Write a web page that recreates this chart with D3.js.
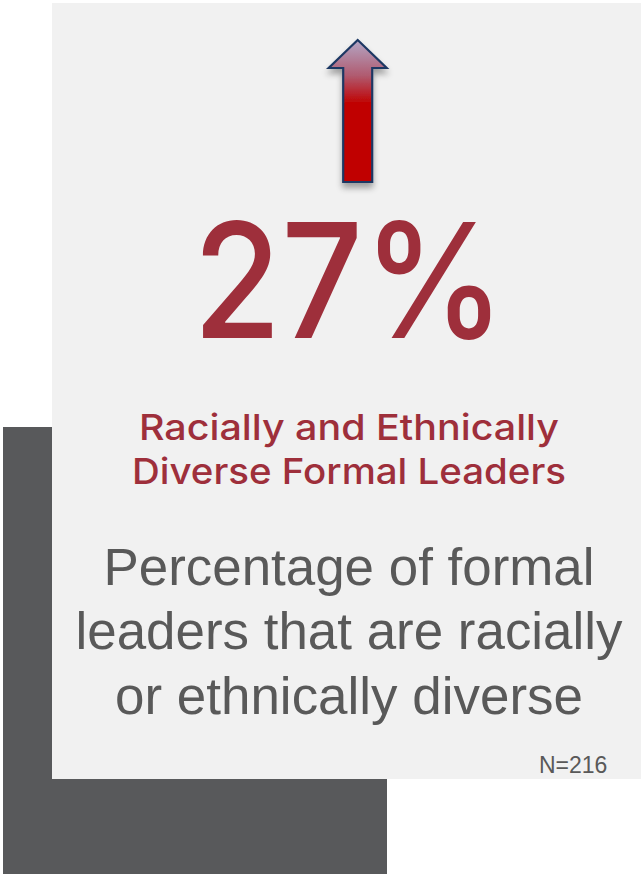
<!DOCTYPE html>
<html>
<head>
<meta charset="utf-8">
<script src="https://cdn.jsdelivr.net/npm/d3@7/dist/d3.min.js"></script>
<style>
  html, body { margin: 0; padding: 0; background: #ffffff; }
  svg { display: block; }
</style>
</head>
<body>
<script>
// ---- data ----
const statValue = [27];
const statUnit = ["%"];
const titleLines = ["Racially and Ethnically", "Diverse Formal Leaders"];
const descLines = ["Percentage of formal", "leaders that are racially", "or ethnically diverse"];
const sampleLabel = ["N=216"];

// ---- layout ----
const W = 641, H = 874;
const svg = d3.select("body").append("svg").attr("width", W).attr("height", H);
const defs = svg.append("defs");

// background blocks
svg.append("rect").attr("x", 3).attr("y", 427).attr("width", 384).attr("height", H - 427).attr("fill", "#58595b");
svg.append("rect").attr("x", 52).attr("y", 3).attr("width", W - 52).attr("height", 776).attr("fill", "#f1f1f1");

const cx = 349;

// arrow
const grad = defs.append("linearGradient").attr("id", "ag").attr("x1", 0).attr("y1", 0).attr("x2", 0).attr("y2", 1);
grad.append("stop").attr("offset", "0%").attr("stop-color", "#b4a7c6");
grad.append("stop").attr("offset", "25%").attr("stop-color", "#b05b70");
grad.append("stop").attr("offset", "45%").attr("stop-color", "#c00000");
grad.append("stop").attr("offset", "100%").attr("stop-color", "#c00000");
const f = defs.append("filter").attr("id", "sh").attr("x", "-50%").attr("y", "-20%").attr("width", "200%").attr("height", "150%");
f.append("feGaussianBlur").attr("in", "SourceAlpha").attr("stdDeviation", 3);
f.append("feOffset").attr("dx", 0).attr("dy", 5).attr("result", "ob");
f.append("feComponentTransfer").append("feFuncA").attr("type", "linear").attr("slope", 0.35);
const fm = f.append("feMerge");
fm.append("feMergeNode");
fm.append("feMergeNode").attr("in", "SourceGraphic");

const ax = 357.7, aTop = 40, aHeadBase = 68, aBottom = 182, headHalf = 29, shaftHalf = 14.5;
const arrowPts = [
  [ax, aTop], [ax + headHalf, aHeadBase], [ax + shaftHalf, aHeadBase], [ax + shaftHalf, aBottom],
  [ax - shaftHalf, aBottom], [ax - shaftHalf, aHeadBase], [ax - headHalf, aHeadBase]
];
svg.append("path")
  .attr("d", d3.line()(arrowPts) + "Z")
  .attr("fill", "url(#ag)")
  .attr("stroke", "#1f3864")
  .attr("stroke-width", 2.2)
  .attr("stroke-linejoin", "miter")
  .attr("filter", "url(#sh)");

// big number
const fmt = d => d3.format("d")(d) + statUnit[0];
svg.selectAll("text.stat").data(statValue).join("text")
  .attr("class", "stat")
  .attr("x", cx).attr("y", 338)
  .attr("text-anchor", "middle")
  .attr("font-family", "Inter, 'Noto Sans', sans-serif")
  .attr("font-weight", 500)
  .attr("font-size", 160)
  .attr("fill", "#9e2f3b")
  .attr("textLength", 312)
  .attr("lengthAdjust", "spacingAndGlyphs")
  .text(fmt);

// title lines
const titleY = d3.scalePoint().domain(titleLines).range([439.5, 483.5]);
const titleW = [420, 434];
svg.selectAll("text.title").data(titleLines).join("text")
  .attr("class", "title")
  .attr("x", cx).attr("y", d => titleY(d))
  .attr("text-anchor", "middle")
  .attr("font-family", "Inter, 'Noto Sans', sans-serif")
  .attr("font-weight", 500)
  .attr("font-size", 35.5)
  .attr("fill", "#9e2f3b")
  .attr("textLength", (d, i) => titleW[i])
  .attr("lengthAdjust", "spacingAndGlyphs")
  .text(d => d);

// description
const descY = d3.scalePoint().domain(descLines).range([585, 713.5]);
const descW = [491, 547, 468];
svg.selectAll("text.desc").data(descLines).join("text")
  .attr("class", "desc")
  .attr("x", cx).attr("y", d => descY(d))
  .attr("text-anchor", "middle")
  .attr("font-family", "'Liberation Sans', Arial, sans-serif")
  .attr("font-size", 51)
  .attr("fill", "#595959")
  .attr("textLength", (d, i) => descW[i])
  .attr("lengthAdjust", "spacingAndGlyphs")
  .text(d => d);

// sample size
svg.selectAll("text.n").data(sampleLabel).join("text")
  .attr("class", "n")
  .attr("x", 539).attr("y", 773)
  .attr("font-family", "'Liberation Sans', Arial, sans-serif")
  .attr("font-size", 23)
  .attr("fill", "#595959")
  .text(d => d);
</script>
</body>
</html>
